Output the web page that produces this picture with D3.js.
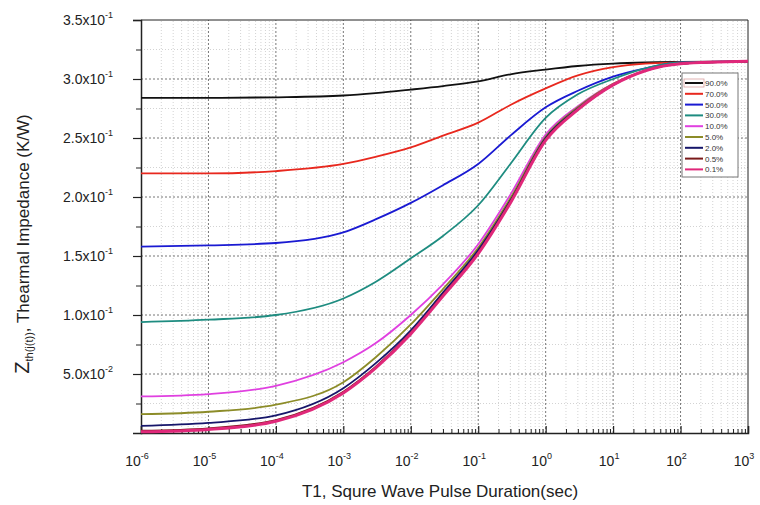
<!DOCTYPE html>
<html>
<head>
<meta charset="utf-8">
<script src="https://cdn.jsdelivr.net/npm/d3@7"></script>
<style>
  body { margin: 0; background: #fff; }
  svg { font-family: 'Liberation Sans', Arial, sans-serif; }
</style>
</head>
<body>
<svg id="chart" width="760" height="505"></svg>
<script>
// pulse durations (sec)
const pulseT = [1e-6, 1e-5, 1e-4, 1e-3, 3e-3, 1e-2, 3e-2, 1e-1, 3e-1, 1, 3, 10, 30, 100, 1000];

// duty cycle series
const duty = ['90.0%', '70.0%', '50.0%', '30.0%', '10.0%', '5.0%', '2.0%', '0.5%', '0.1%'];
const colors = ['#111111', '#e8281e', '#1a1ad2', '#1e8c80', '#e040e0', '#8c8c28', '#16166a', '#7a1a1a', '#e0287a'];

const z90 = [0.284, 0.284, 0.2845, 0.286, 0.288, 0.291, 0.294, 0.298, 0.304, 0.308, 0.311, 0.313, 0.314, 0.3145, 0.315];
const z70 = [0.220, 0.220, 0.222, 0.228, 0.234, 0.242, 0.252, 0.263, 0.278, 0.292, 0.303, 0.310, 0.313, 0.314, 0.315];
const z50 = [0.158, 0.159, 0.161, 0.170, 0.181, 0.195, 0.210, 0.228, 0.252, 0.276, 0.290, 0.302, 0.309, 0.314, 0.315];
const z30 = [0.094, 0.096, 0.100, 0.114, 0.128, 0.148, 0.167, 0.193, 0.228, 0.267, 0.287, 0.300, 0.309, 0.314, 0.315];
const z10 = [0.031, 0.033, 0.040, 0.060, 0.076, 0.100, 0.126, 0.160, 0.202, 0.253, 0.277, 0.296, 0.307, 0.313, 0.315];
const z5 = [0.016, 0.018, 0.024, 0.043, 0.064, 0.092, 0.122, 0.157, 0.199, 0.251, 0.276, 0.296, 0.307, 0.313, 0.315];
const z2 = [0.006, 0.0085, 0.015, 0.038, 0.059, 0.087, 0.119, 0.155, 0.197, 0.250, 0.275, 0.295, 0.307, 0.313, 0.315];
const z05 = [0.002, 0.004, 0.011, 0.035, 0.056, 0.085, 0.117, 0.153, 0.196, 0.249, 0.274, 0.295, 0.307, 0.313, 0.315];
const z01 = [0.001, 0.003, 0.010, 0.034, 0.055, 0.084, 0.116, 0.152, 0.195, 0.248, 0.274, 0.295, 0.307, 0.313, 0.315];
const series = [z90, z70, z50, z30, z10, z5, z2, z05, z01];

const xExp = [-6, -5, -4, -3, -2, -1, 0, 1, 2, 3];
const yTicks = [0.05, 0.10, 0.15, 0.20, 0.25, 0.30, 0.35];
const yMant = ['5.0', '1.0', '1.5', '2.0', '2.5', '3.0', '3.5'];
const yExp = ['-2', '-1', '-1', '-1', '-1', '-1', '-1'];

const width = 760, height = 505;
const margin = { top: 20, right: 12, bottom: 72, left: 141 };
const svg = d3.select('#chart');

const x = d3.scaleLog()
  .domain([1e-6, 1e3])
  .range([margin.left, width - margin.right]);

const y = d3.scaleLinear()
  .domain([0, 0.35])
  .range([height - margin.bottom, margin.top]);

const minorX = [];
xExp.slice(0, -1).forEach(e => { for (let k = 2; k < 10; k++) minorX.push(k * Math.pow(10, e)); });
const minorY = d3.range(0.025, 0.35, 0.05);

// grid
const grid = svg.append('g');
grid.selectAll('.vmin')
  .data(minorX)
  .join('line')
  .attr('x1', d => x(d)).attr('x2', d => x(d))
  .attr('y1', y(0)).attr('y2', y(0.35))
  .attr('stroke', '#c8c8c8').attr('stroke-width', 0.8)
  .attr('stroke-dasharray', '1,2');
grid.selectAll('.hmin')
  .data(minorY)
  .join('line')
  .attr('x1', x(1e-6)).attr('x2', x(1e3))
  .attr('y1', d => y(d)).attr('y2', d => y(d))
  .attr('stroke', '#c8c8c8').attr('stroke-width', 0.8)
  .attr('stroke-dasharray', '1,2');
grid.selectAll('.vmaj')
  .data(xExp.slice(1, -1))
  .join('line')
  .attr('x1', d => x(Math.pow(10, d))).attr('x2', d => x(Math.pow(10, d)))
  .attr('y1', y(0)).attr('y2', y(0.35))
  .attr('stroke', '#777').attr('stroke-width', 1)
  .attr('stroke-dasharray', '2,2');
grid.selectAll('.hmaj')
  .data(yTicks.slice(0, -1))
  .join('line')
  .attr('x1', x(1e-6)).attr('x2', x(1e3))
  .attr('y1', d => y(d)).attr('y2', d => y(d))
  .attr('stroke', '#777').attr('stroke-width', 1)
  .attr('stroke-dasharray', '2,2');

// frame
svg.append('line')
  .attr('x1', x(1e-6)).attr('x2', x(1e3))
  .attr('y1', y(0.35)).attr('y2', y(0.35))
  .attr('stroke', '#222').attr('stroke-width', 1);
svg.append('line')
  .attr('x1', x(1e3)).attr('x2', x(1e3))
  .attr('y1', y(0)).attr('y2', y(0.35))
  .attr('stroke', '#222').attr('stroke-width', 1);

// X axis (ticks point inward)
const xAxis = svg.append('g')
  .attr('transform', `translate(0, ${y(0)})`)
  .call(d3.axisBottom(x).tickValues(xExp.map(e => Math.pow(10, e))).tickSize(-7).tickFormat(''));
xAxis.select('.domain').attr('stroke', '#222').attr('stroke-width', 1.5);
xAxis.selectAll('.tick line').attr('stroke', '#222').attr('stroke-width', 1.2);
svg.append('g')
  .attr('transform', `translate(0, ${y(0)})`)
  .call(d3.axisBottom(x).tickValues(minorX).tickSize(-4).tickFormat(''))
  .call(g => g.select('.domain').remove())
  .selectAll('.tick line').attr('stroke', '#222');

const xLab = svg.append('g')
  .selectAll('text')
  .data(xExp)
  .join('text')
  .attr('x', d => x(Math.pow(10, d)) - 4)
  .attr('y', y(0) + 33)
  .attr('text-anchor', 'middle')
  .style('font-size', '14px')
  .style('fill', '#222');
xLab.append('tspan').text('10');
xLab.append('tspan').attr('dy', -7).style('font-size', '9px').text(d => d);

// Y axis (ticks point outward)
const yAxis = svg.append('g')
  .attr('transform', `translate(${x(1e-6)}, 0)`)
  .call(d3.axisLeft(y).tickValues(yTicks).tickSize(8).tickFormat(''));
yAxis.select('.domain').attr('stroke', '#222').attr('stroke-width', 1.5);
yAxis.selectAll('.tick line').attr('stroke', '#222').attr('stroke-width', 1.2);
svg.append('g')
  .attr('transform', `translate(${x(1e-6)}, 0)`)
  .call(d3.axisLeft(y).tickValues(minorY).tickSize(5).tickFormat(''))
  .call(g => g.select('.domain').remove())
  .selectAll('.tick line').attr('stroke', '#222');

const yLab = svg.append('g')
  .selectAll('text')
  .data(yTicks)
  .join('text')
  .attr('x', 63)
  .attr('y', d => y(d) + 5)
  .style('font-size', '14px')
  .style('fill', '#222');
yLab.append('tspan').text((d, i) => yMant[i] + 'x10');
yLab.append('tspan').attr('dy', -7).style('font-size', '9px').text((d, i) => yExp[i]);

// axis titles
svg.append('text')
  .attr('x', 440)
  .attr('y', 497)
  .attr('text-anchor', 'middle')
  .style('font-size', '17px')
  .style('fill', '#222')
  .text('T1, Squre Wave Pulse Duration(sec)');

const yt = svg.append('text')
  .attr('transform', `translate(29, 244) rotate(-90)`)
  .attr('text-anchor', 'middle')
  .style('font-size', '17px')
  .style('fill', '#222');
yt.append('tspan').style('font-size', '20px').text('Z');
yt.append('tspan').attr('dy', 4).style('font-size', '11px').text('th(j(t))');
yt.append('tspan').attr('dy', -4).text(', Thearmal Impedance (K/W)');

// curves
const line = d3.line()
  .x((d, i) => x(pulseT[i]))
  .y(d => y(d))
  .curve(d3.curveMonotoneX);

svg.append('g')
  .selectAll('path')
  .data(series)
  .join('path')
  .attr('d', d => line(d))
  .attr('fill', 'none')
  .attr('stroke', (d, i) => colors[i])
  .attr('stroke-width', (d, i) => i === series.length - 1 ? 3 : 1.8);

// legend
const lg = svg.append('g');
lg.append('rect')
  .attr('x', 682).attr('y', 73)
  .attr('width', 56).attr('height', 104)
  .attr('fill', '#fff')
  .attr('stroke', '#777').attr('stroke-width', 1);
lg.append('rect')
  .attr('x', 684).attr('y', 79)
  .attr('width', 20).attr('height', 8)
  .attr('fill', 'none')
  .attr('stroke', '#d9a0a0').attr('stroke-width', 0.8);
const items = lg.selectAll('.item')
  .data(duty)
  .join('g')
  .attr('transform', (d, i) => `translate(0, ${83 + i * 10.8})`);
items.append('line')
  .attr('x1', 685).attr('x2', 703)
  .attr('stroke', (d, i) => colors[i])
  .attr('stroke-width', 2);
items.append('text')
  .attr('x', 705).attr('y', 3)
  .style('font-size', '8px')
  .style('fill', '#333')
  .text(d => d);
</script>
</body>
</html>
